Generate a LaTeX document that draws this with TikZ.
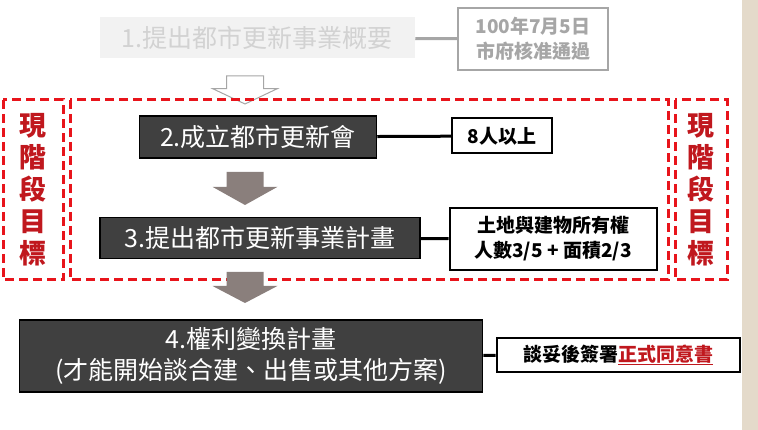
\documentclass[tikz,border=0pt]{standalone}
\usepackage{fontspec}
\setmainfont{Noto Sans CJK TC}
\usetikzlibrary{positioning}

\definecolor{boxdark}{HTML}{404040}
\definecolor{boxpale}{HTML}{F2F2F2}
\definecolor{dashred}{HTML}{E8141B}
\definecolor{textred}{HTML}{C0181E}
\definecolor{paper}{HTML}{E4DACA}
\definecolor{arrowfill}{HTML}{8A7F7C}

\tikzset{
  stagebox/.style={draw=black, line width=1.5pt, fill=boxdark, text=white,
    font=\fontsize{25}{31}\selectfont, align=center, inner sep=0pt},
  notebox/.style={draw=black, line width=2pt, fill=white,
    font=\bfseries\fontsize{19}{25}\selectfont, align=center, inner sep=0pt},
  goalbox/.style={draw=dashred, line width=3pt, dash pattern=on 9pt off 5pt},
  link/.style={line width=3pt},
  pics/downarrow/.style={code={
    \path[pic actions] (-18.5,0) -- (18.5,0) -- (18.5,#1*0.45) -- (32.5,#1*0.45)
      -- (0,#1) -- (-32.5,#1*0.45) -- (-18.5,#1*0.45) -- cycle;}}
}

\begin{document}
\begin{tikzpicture}[x=1pt, y=-1pt]

  \useasboundingbox (0,0) rectangle (758,430);
  \fill[paper] (742,0) rectangle (758,430);

  % step 1, already done
  \node (s1) [stagebox, draw=none, fill=boxpale, text=gray!35,
    minimum width=315pt, minimum height=41pt] at (257,38) {1.提出都市更新事業概要};
  \node (n1) [notebox, draw=gray!70, text=gray!70, minimum width=150pt,
    minimum height=62pt] at (533,39) {100年7月5日\\市府核准通過};
  \draw [link, gray!70] (s1) -- (n1);

  \pic [draw=gray!70, fill=white, line width=1pt] at (245,76) {downarrow=28};

  % current goal frame
  \draw [goalbox] (3,100) rectangle (63,280);
  \draw [goalbox] (70,100) rectangle (668,280);
  \draw [goalbox] (675,100) rectangle (727,280);
  \node (g1) [text=textred, font=\bfseries\fontsize{27}{32}\selectfont, align=center]
    at (33,190) {現\\階\\段\\目\\標};
  \node (g2) [text=textred, font=\bfseries\fontsize{27}{32}\selectfont, align=center]
    at (701,190) {現\\階\\段\\目\\標};

  % step 2
  \node (s2) [stagebox, minimum width=237pt, minimum height=42pt] at (258,137) {2.成立都市更新會};
  \node (n2) [notebox, minimum width=100pt, minimum height=35pt] at (502,136) {8人以上};
  \draw [link] (s2) -- (n2);

  \pic [fill=arrowfill] at (245,172) {downarrow=33};

  % step 3
  \node (s3) [stagebox, minimum width=320pt, minimum height=41pt] at (260,238) {3.提出都市更新事業計畫};
  \node (n3) [notebox, minimum width=207pt, minimum height=62pt] at (553,239)
    {土地與建物所有權\\人數3/5 + 面積2/3};
  \draw [link] (s3) -- (n3);

  \pic [fill=arrowfill] at (245,272) {downarrow=31};

  % step 4
  \node (s4) [stagebox, minimum width=463pt, minimum height=72pt] at (251,356)
    {4.權利變換計畫\\(才能開始談合建、出售或其他方案)};
  \node (n4) [notebox, minimum width=243pt, minimum height=34pt] at (618,355)
    {談妥後簽署\textcolor{textred}{\underline{正式同意書}}};
  \draw [link] (s4) -- (n4);

\end{tikzpicture}
\end{document}
